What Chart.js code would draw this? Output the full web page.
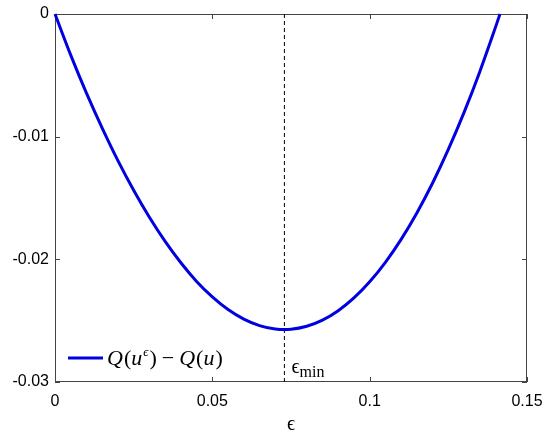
<!DOCTYPE html>
<html>
<head>
<meta charset="utf-8">
<script src="https://cdn.jsdelivr.net/npm/chart.js@4"></script>
<style>
html,body{margin:0;padding:0;background:#fff;}
#wrap{width:550px;height:441px;}
</style>
</head>
<body>
<div id="wrap"><canvas id="c" width="550" height="441"></canvas></div>
<script>
// ---- data ----
const epsValues = [0, 0.005, 0.010, 0.015, 0.020, 0.025, 0.030, 0.035, 0.040, 0.045, 0.050, 0.055, 0.060, 0.065, 0.070, 0.075, 0.080, 0.085, 0.090, 0.095, 0.100, 0.105, 0.110, 0.115, 0.120, 0.125, 0.130, 0.135, 0.140, 0.1414];
const qDiff = [0, -0.00335, -0.00645, -0.00930, -0.01195, -0.01437, -0.01657, -0.01854, -0.02028, -0.02180, -0.02306, -0.02409, -0.02487, -0.02540, -0.02568, -0.02570, -0.02546, -0.02496, -0.02419, -0.02315, -0.02183, -0.02024, -0.01837, -0.01622, -0.01378, -0.01104, -0.00802, -0.00470, -0.00107, 0];
const epsMin = 0.0729;
const xTickLabels = ['0', '0.05', '0.1', '0.15'];
const xTickValues = [0, 0.05, 0.1, 0.15];
const yTickLabels = ['-0.03', '-0.02', '-0.01', '0'];
const yTickValues = [-0.03, -0.02, -0.01, 0];
const seriesLabel = 'Q(u^ϵ) − Q(u)';
const axisTitle = 'ϵ';
const minLabel = 'ϵ';
const minSub = 'min';

const curve = epsValues.map((x, i) => ({x: x, y: qDiff[i]}));
const dashLine = [{x: epsMin, y: 0}, {x: epsMin, y: -0.03}];

function labelFor(vals, labels, v) {
  for (let i = 0; i < vals.length; i++) if (Math.abs(vals[i] - v) < 1e-9) return labels[i];
  return '';
}

const axisColor = '#444444';
const lineBlue = '#0000e0';
const boxPlugin = {
  id: 'boxPlugin',
  beforeDatasetsDraw(chart) {
    const {ctx, chartArea: a, scales} = chart;
    ctx.save();
    ctx.strokeStyle = axisColor;
    ctx.lineWidth = 1;
    ctx.strokeRect(a.left + 0.5, a.top + 0.5, a.right - a.left - 1, a.bottom - a.top - 1);
    const tl = 5;
    ctx.beginPath();
    xTickValues.forEach(v => {
      const px = Math.round(scales.x.getPixelForValue(v)) + 0.5;
      ctx.moveTo(px, a.bottom); ctx.lineTo(px, a.bottom - tl);
      ctx.moveTo(px, a.top); ctx.lineTo(px, a.top + tl);
    });
    yTickValues.forEach(v => {
      const py = Math.round(scales.y.getPixelForValue(v)) + 0.5;
      ctx.moveTo(a.left, py); ctx.lineTo(a.left + tl, py);
      ctx.moveTo(a.right, py); ctx.lineTo(a.right - tl, py);
    });
    ctx.stroke();
    ctx.restore();
  },
  afterDatasetsDraw(chart) {
    const {ctx, chartArea: a, scales} = chart;
    ctx.save();
    // epsilon_min label
    const mx = scales.x.getPixelForValue(epsMin);
    ctx.fillStyle = '#000';
    ctx.textBaseline = 'alphabetic';
    ctx.font = '20px "Liberation Serif", serif';
    ctx.fillText(minLabel, mx + 7, a.bottom - 9);
    const w1 = ctx.measureText(minLabel).width;
    ctx.font = '16px "Liberation Serif", serif';
    ctx.fillText(minSub, mx + 7 + w1, a.bottom - 5);
    // legend
    const ly = a.top + (a.bottom - a.top) * 0.935;
    ctx.strokeStyle = lineBlue;
    ctx.lineWidth = 3;
    ctx.beginPath();
    ctx.moveTo(a.left + 13, ly); ctx.lineTo(a.left + 48, ly);
    ctx.stroke();
    let tx = a.left + 52;
    const by = ly + 7;
    ctx.fillStyle = '#000';
    const parts = [
      ['italic 22px "Liberation Serif", serif', 'Q', 1],
      ['22px "Liberation Serif", serif', '(', 0],
      ['italic 22px "Liberation Serif", serif', 'u', 1],
      ['italic 13px "Liberation Serif", serif', 'ϵ', 1, -9],
      ['22px "Liberation Serif", serif', ')', 5],
      ['22px "Liberation Serif", serif', '−', 5],
      ['italic 22px "Liberation Serif", serif', 'Q', 1],
      ['22px "Liberation Serif", serif', '(', 0],
      ['italic 22px "Liberation Serif", serif', 'u', 1],
      ['22px "Liberation Serif", serif', ')', 0]
    ];
    parts.forEach(p => {
      ctx.font = p[0];
      ctx.fillText(p[1], tx, by + (p[3] || 0));
      tx += ctx.measureText(p[1]).width + p[2];
    });
    ctx.restore();
  }
};

new Chart(document.getElementById('c'), {
  type: 'line',
  data: {
    datasets: [
      {
        label: seriesLabel,
        data: curve,
        borderColor: lineBlue,
        borderWidth: 3,
        pointRadius: 0,
        fill: false,
        tension: 0.3,
        clip: 6
      },
      {
        label: 'min',
        data: dashLine,
        borderColor: '#000',
        borderWidth: 1,
        borderDash: [4, 3],
        pointRadius: 0,
        fill: false
      }
    ]
  },
  options: {
    responsive: false,
    animation: false,
    devicePixelRatio: 1,
    layout: {padding: {left: 0, right: 23, top: 14, bottom: 0}},
    plugins: {legend: {display: false}, tooltip: {enabled: false}},
    scales: {
      x: {
        type: 'linear',
        min: 0, max: 0.15,
        afterBuildTicks(s) { s.ticks = xTickValues.map(v => ({value: v})); },
        afterFit(s) { s.height = 59; s.paddingLeft = 0; s.paddingRight = 0; },
        grid: {display: false, drawTicks: false},
        border: {display: false},
        ticks: {
          color: '#000',
          font: {family: '"Liberation Sans", Arial, sans-serif', size: 16},
          padding: 10,
          maxRotation: 0,
          callback: v => labelFor(xTickValues, xTickLabels, v)
        },
        title: {
          display: true,
          text: axisTitle,
          color: '#000',
          font: {family: '"Liberation Serif", serif', size: 20},
          padding: {top: 4, bottom: 4}
        }
      },
      y: {
        type: 'linear',
        min: -0.03, max: 0,
        afterBuildTicks(s) { s.ticks = yTickValues.map(v => ({value: v})); },
        afterFit(s) { s.width = 55; s.paddingTop = 0; s.paddingBottom = 0; },
        grid: {display: false, drawTicks: false},
        border: {display: false},
        ticks: {
          color: '#000',
          font: {family: '"Liberation Sans", Arial, sans-serif', size: 16},
          padding: 6,
          callback: v => labelFor(yTickValues, yTickLabels, v)
        }
      }
    }
  },
  plugins: [boxPlugin]
});
</script>
</body>
</html>
